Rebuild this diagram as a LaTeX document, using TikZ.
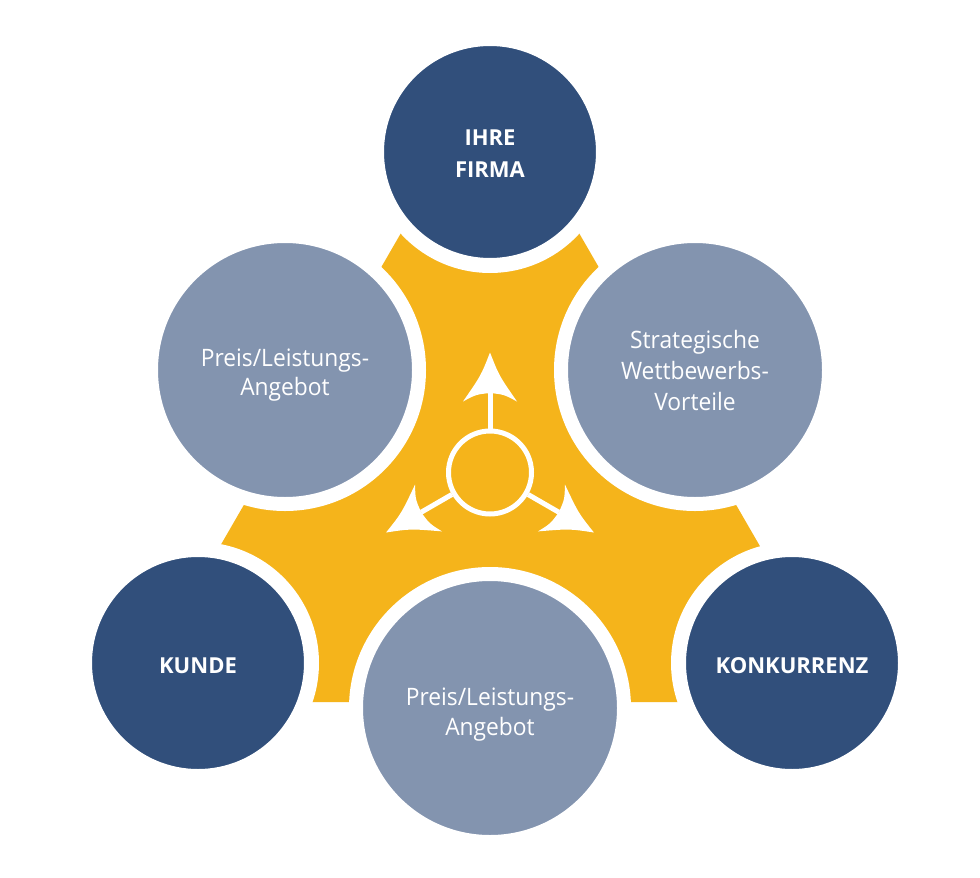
\documentclass[tikz,border=0pt]{standalone}
\usepackage{fontspec}
\setmainfont{Open Sans}
\newfontfamily\lightfont[FakeStretch=0.95]{Open Sans}
\definecolor{navy}{HTML}{314F7B}
\definecolor{slate}{HTML}{8394AF}
\definecolor{gold}{HTML}{F5B41B}
\begin{document}
\begin{tikzpicture}[x=1pt,y=-1pt,
  darkc/.style={circle, fill=navy, draw=white, line width=15pt, minimum size=227pt, inner sep=0pt},
  lightc/.style={circle, fill=slate, draw=white, line width=14pt, minimum size=268pt, inner sep=0pt},
  darktext/.style={anchor=base, inner sep=0pt, text=white, align=center,
    font=\bfseries\fontsize{22}{32}\selectfont},
  lighttext/.style={anchor=base, inner sep=0pt, text=white, align=center,
    font=\lightfont\fontsize{24}{29.5}\selectfont},
  hubring/.style={circle, draw=white, line width=5pt, minimum size=83pt, inner sep=0pt},
  stem/.style={draw=white, line width=5pt},
  headfill/.style={fill=white}]
\useasboundingbox (0,0) rectangle (980,878);
\fill[white] (0,0) rectangle (980,878);
\fill[gold] (490,79) -- (850,702) -- (130,702) -- cycle;
% circles
\node[darkc] (firma) at (490,152) {};
\node[darkc] (kunde) at (198,663) {};
\node[darkc] (konk) at (792,663) {};
\node[lightc] (pl1) at (285,370) {};
\node[lightc] (swv) at (695,370) {};
\node[lightc] (pl2) at (490,708) {};
% texts (anchor=base is the baseline of the last line)
\node[darktext] (firma-t) at (490,177) {IHRE\\FIRMA};
\node[darktext] (kunde-t) at (198,673) {KUNDE};
\node[darktext] (konk-t) at (792,673) {KONKURRENZ};
\node[lighttext] (pl1-t) at (285,395.5) {Preis/Leistungs-\\Angebot};
\node[lighttext, font=\lightfont\fontsize{24}{31}\selectfont] (swv-t) at (695,410) {Strategische\\Wettbewerbs-\\Vorteile};
\node[lighttext] (pl2-t) at (490,735) {Preis/Leistungs-\\Angebot};
% hub with arrows
\node[hubring] (hub) at (490,472.5) {};
\foreach \a/\n in {90/U,210/L,330/R}{
  \begin{scope}[shift={(490,472.5)}, rotate=\a]
    \coordinate (n\n) at (79.5,0);
    \fill[headfill] (120,0) .. controls (97,9) .. (71,27)
      .. controls (78,14) .. (79.5,0)
      .. controls (78,-14) .. (71,-27)
      .. controls (97,-9) .. (120,0) -- cycle;
  \end{scope}
  \draw[stem] (hub) -- (n\n);
}
\end{tikzpicture}
\end{document}
